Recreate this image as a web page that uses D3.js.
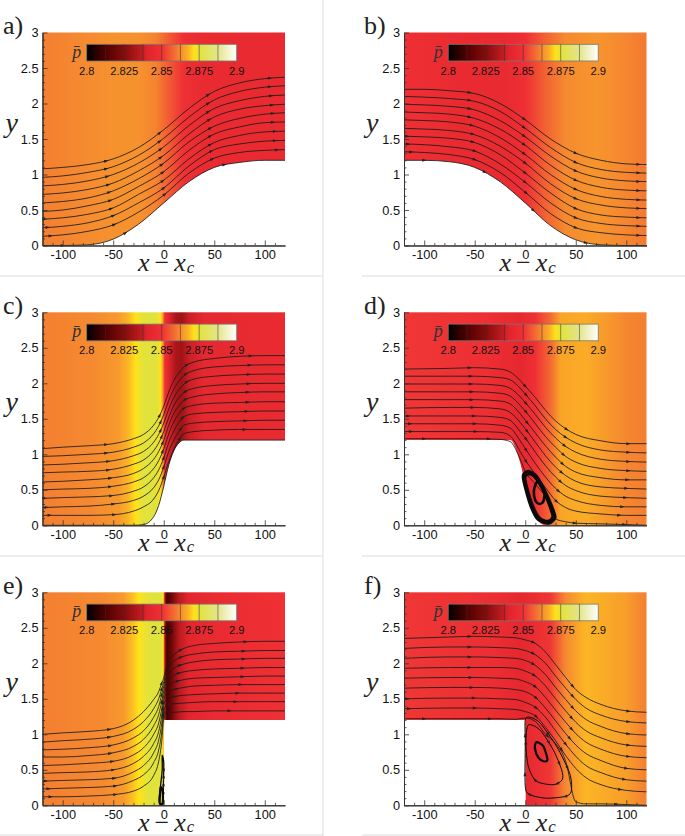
<!DOCTYPE html>
<html>
<head>
<meta charset="utf-8">
<script src="https://cdn.jsdelivr.net/npm/d3@7"></script>
<style>
html,body{margin:0;padding:0;background:#fff;}
svg{display:block;}
</style>
</head>
<body>
<div id="chart"></div>
<script>
// axis ticks
var xTicks=[-100,-50,0,50,100];
var yTicks=[0,0.5,1,1.5,2,2.5,3];
var xMinor=[-110,-90,-80,-70,-60,-40,-30,-20,-10,10,20,30,40,60,70,80,90,110];
var yMinor=[0.1,0.2,0.3,0.4,0.6,0.7,0.8,0.9,1.1,1.2,1.3,1.4,1.6,1.7,1.8,1.9,2.1,2.2,2.3,2.4,2.6,2.7,2.8,2.9];

// colour bar
var barTicks=[2.8,2.825,2.85,2.875,2.9];
var barCuts=[2.8125,2.825,2.8375,2.85,2.8625,2.875,2.8875];
var mapP=[2.8,2.8125,2.825,2.8375,2.84,2.85,2.8625,2.8675,2.8715,2.875,2.8875,2.9];
var mapC=["#000000","#520000","#850c0c","#c41e24","#e0242c","#ef3035","#f58a30","#fbb025","#ffe11a","#e2e23c","#e3e58c","#ffffff"];

// a) smooth step up
var xs_a=[-120,-100,-75,-50,-25,0,25,50,75,100,120];
var wall_a=[0,0,0.01,0.09,0.3,0.6,0.9,1.1,1.17,1.2,1.2];
var lines_a=[
 [1.08,1.1,1.14,1.22,1.38,1.63,1.93,2.17,2.29,2.35,2.37],
 [0.96,0.98,1.03,1.11,1.27,1.51,1.81,2.05,2.17,2.23,2.25],
 [0.84,0.86,0.91,1,1.16,1.39,1.69,1.93,2.04,2.1,2.12],
 [0.72,0.74,0.79,0.88,1.05,1.27,1.57,1.81,1.92,1.97,1.99],
 [0.6,0.62,0.67,0.77,0.94,1.16,1.46,1.68,1.79,1.85,1.87],
 [0.48,0.5,0.56,0.65,0.83,1.04,1.34,1.57,1.67,1.73,1.74],
 [0.37,0.39,0.44,0.53,0.72,0.92,1.22,1.45,1.55,1.6,1.61],
 [0.25,0.27,0.32,0.42,0.6,0.81,1.12,1.35,1.43,1.47,1.48],
 [0.13,0.15,0.2,0.29,0.47,0.71,1.02,1.23,1.31,1.34,1.35]
];
var arrows_a=[[-57,-4,44,105],[-57,-4,44,105],[-56,-3,44,106],[-55,-3,45,107],[-54,-2,46,108],[-53,-1,46,108],[-118,-52,-1,46,110],[-115,-50,0,47,110],[-112,-49,1,48,112]];
var wallArrows_a=[-100,-38,60];
var pX_a=[-120,-80,-50,-25,-8,5,20,40,120];
var pV_a=[2.861,2.8625,2.8635,2.8635,2.8615,2.856,2.849,2.846,2.846];

// b) smooth step down
var xs_b=[-120,-100,-75,-50,-25,0,25,50,75,100,120];
var wall_b=[1.2,1.2,1.18,1.1,0.9,0.6,0.28,0.08,0.01,0,0];
var lines_b=[
 [2.2,2.2,2.18,2.14,2,1.77,1.5,1.3,1.2,1.15,1.14],
 [2.1,2.09,2.07,2.03,1.89,1.65,1.38,1.17,1.07,1.03,1.02],
 [1.99,1.98,1.96,1.91,1.76,1.53,1.26,1.05,0.95,0.91,0.9],
 [1.88,1.87,1.85,1.79,1.64,1.41,1.13,0.92,0.82,0.78,0.77],
 [1.77,1.76,1.74,1.68,1.52,1.28,1,0.79,0.69,0.65,0.64],
 [1.65,1.64,1.62,1.56,1.4,1.16,0.87,0.66,0.57,0.53,0.52],
 [1.54,1.53,1.51,1.45,1.28,1.02,0.74,0.52,0.43,0.4,0.39],
 [1.43,1.42,1.39,1.33,1.15,0.89,0.6,0.39,0.31,0.28,0.27],
 [1.32,1.31,1.28,1.21,1.03,0.75,0.45,0.25,0.18,0.15,0.14]
];
var arrows_b=[[-55,-1,50,112],[-55,-1,50,112],[-55,-1,50,112],[-55,-1,50,112],[-53,-1,50,112],[-52,0,50,112],[-117,-52,0,50,112],[-116,-50,0,50,112],[-113,-50,1,50,112]];
var wallArrows_b=[-100,-40,8,60];
var pX_b=[-120,-60,-20,0,20,40,70,100,120];
var pV_b=[2.849,2.846,2.845,2.849,2.857,2.8625,2.864,2.862,2.86];

// c) steep step up
var xs_c=[-120,-100,-75,-50,-30,-20,-10,-5,0,5,10,15,20,30,50,75,100,120];
var wall_c=[0,0,0,0,0,0.01,0.12,0.28,0.55,0.85,1.05,1.16,1.2,1.2,1.2,1.2,1.2,1.2];
var lines_c=[
 [1.08,1.1,1.12,1.15,1.22,1.28,1.41,1.52,1.68,1.88,2.04,2.15,2.23,2.3,2.35,2.38,2.39,2.39],
 [0.97,0.98,1,1.03,1.1,1.16,1.29,1.4,1.56,1.76,1.92,2.03,2.11,2.18,2.23,2.25,2.26,2.26],
 [0.85,0.86,0.88,0.91,0.98,1.04,1.17,1.28,1.44,1.64,1.8,1.91,1.99,2.06,2.1,2.12,2.13,2.13],
 [0.74,0.75,0.76,0.79,0.86,0.92,1.05,1.16,1.32,1.52,1.69,1.8,1.87,1.93,1.97,1.99,2,2],
 [0.61,0.62,0.64,0.67,0.73,0.8,0.93,1.04,1.2,1.41,1.58,1.68,1.76,1.81,1.85,1.87,1.88,1.88],
 [0.5,0.51,0.52,0.55,0.61,0.67,0.8,0.91,1.08,1.29,1.46,1.57,1.65,1.69,1.72,1.73,1.74,1.74],
 [0.38,0.39,0.4,0.42,0.48,0.54,0.67,0.78,0.95,1.17,1.33,1.45,1.53,1.57,1.59,1.6,1.61,1.61],
 [0.25,0.26,0.27,0.3,0.35,0.41,0.53,0.64,0.82,1.04,1.2,1.32,1.41,1.44,1.46,1.47,1.48,1.48],
 [0.14,0.14,0.14,0.15,0.2,0.26,0.37,0.49,0.68,0.9,1.07,1.2,1.29,1.32,1.34,1.35,1.35,1.35]
];
var arrows_c=[[-57,-4,23,86],[-57,-3,22,85],[-55,-3,23,84],[-55,-2,22,84],[-53,-1,22,83],[-53,-1,20,83],[-118,-52,0,19,82],[-116,-50,0,17,81],[-113,-49,0,16,80]];
var wallArrows_c=[];
var pX_c=[-120,-70,-45,-35,-28,-20,-7,-3,-1,1,5,12,18,25,40,120];
var pV_c=[2.861,2.8625,2.8645,2.868,2.8715,2.875,2.875,2.8715,2.865,2.85,2.84,2.832,2.83,2.838,2.844,2.846];

// d) steep step down, separated bubble
var xs_d=[-120,-75,-50,-25,-15,-5,0,10,20,30,40,50,75,100,120];
var wall_d=[1.2,1.2,1.2,1.2,1.2,0.88,0.58,0.12,0,0,0,0,0,0,0];
var lines_d=[
 [2.2,2.21,2.22,2.2,2.16,2.04,1.96,1.8,1.62,1.47,1.36,1.28,1.19,1.15,1.15],
 [2.1,2.1,2.1,2.08,2.05,1.93,1.85,1.68,1.5,1.35,1.24,1.16,1.06,1.03,1.02],
 [1.99,1.99,1.99,1.97,1.93,1.81,1.73,1.56,1.38,1.23,1.11,1.03,0.93,0.9,0.89],
 [1.88,1.88,1.88,1.86,1.82,1.69,1.61,1.43,1.25,1.1,0.97,0.89,0.8,0.77,0.76],
 [1.77,1.77,1.77,1.75,1.71,1.57,1.48,1.3,1.12,0.96,0.83,0.75,0.67,0.64,0.64],
 [1.65,1.66,1.66,1.64,1.59,1.45,1.36,1.17,0.98,0.82,0.7,0.62,0.54,0.52,0.51],
 [1.54,1.54,1.54,1.52,1.48,1.32,1.23,1.03,0.84,0.68,0.56,0.49,0.41,0.39,0.38],
 [1.43,1.43,1.43,1.41,1.37,1.19,1.08,0.87,0.68,0.52,0.41,0.35,0.28,0.26,0.26],
 [1.32,1.32,1.32,1.31,1.26,1.04,0.92,0.72,0.53,0.35,0.25,0.2,0.16,0.14,0.14],
 [1.22,1.22,1.22,1.21,1.18,0.93,0.76,0.58,0.4,0.09,0.05,0.03,0.02,0.01,0]
];
var arrows_d=[[-55,0,41,102],[-54,1,40,102],[-54,1,39,102],[-53,1,38,102],[-53,2,37,101],[-52,2,36,100],[-116,-51,1,35,99],[-114,-50,1,33,96],[-113,-49,1,31,93],[-100,-36,49,98]];
var pX_d=[-120,-40,-5,10,25,35,60,100,120];
var pV_d=[2.851,2.849,2.843,2.85,2.858,2.866,2.867,2.862,2.861];
var loops_d=[
 [[-2,0.69],[3,0.76],[11,0.69],[19.5,0.48],[26,0.27],[29.4,0.11],[23,0.03],[13,0.08],[6.5,0.24],[1.5,0.46]],
 [[0,0.67],[4,0.72],[11,0.65],[19,0.45],[24,0.27],[27,0.12],[22,0.06],[14,0.11],[8,0.26],[3,0.47]],
 [[11,0.6],[15,0.6],[19,0.48],[18,0.34],[14,0.3],[10,0.35],[8.5,0.48]]
];

// e) forward facing step
var xs_e=[-120,-100,-75,-50,-30,-20,-10,-5,-2,0,1,2,5,10,20,30,50,75,100,120];
var wallX_e=[-120,0,0.5,120];
var wall_e=[0,0,1.2,1.2];
var lines_e=[
 [1,1.02,1.04,1.08,1.2,1.32,1.49,1.6,1.72,1.8,1.86,1.92,2.03,2.12,2.21,2.25,2.28,2.3,2.31,2.31],
 [0.89,0.91,0.93,0.97,1.07,1.18,1.36,1.5,1.64,1.74,1.8,1.86,1.95,2.03,2.1,2.13,2.16,2.17,2.18,2.18],
 [0.78,0.79,0.81,0.85,0.95,1.05,1.24,1.39,1.56,1.68,1.74,1.78,1.86,1.93,1.99,2.02,2.05,2.06,2.07,2.07],
 [0.68,0.68,0.7,0.74,0.83,0.93,1.12,1.28,1.46,1.61,1.67,1.71,1.77,1.83,1.88,1.9,1.92,1.93,1.94,1.94],
 [0.56,0.57,0.59,0.62,0.71,0.81,1,1.16,1.36,1.54,1.6,1.64,1.69,1.73,1.77,1.79,1.8,1.81,1.82,1.82],
 [0.45,0.46,0.47,0.5,0.59,0.69,0.87,1.04,1.26,1.47,1.53,1.56,1.6,1.63,1.66,1.68,1.69,1.7,1.7,1.7],
 [0.34,0.35,0.36,0.38,0.47,0.56,0.74,0.92,1.15,1.4,1.46,1.48,1.51,1.53,1.55,1.56,1.57,1.58,1.58,1.58],
 [0.23,0.24,0.25,0.27,0.35,0.43,0.6,0.78,1.03,1.32,1.38,1.4,1.42,1.43,1.44,1.45,1.46,1.46,1.46,1.46],
 [0.12,0.12,0.13,0.15,0.2,0.27,0.42,0.62,0.9,1.25,1.29,1.3,1.31,1.31,1.32,1.32,1.33,1.33,1.33,1.33]
];
var arrows_e=[[-54,-2,17,81],[-54,-2,17,79],[-53,-2,16,79],[-53,-2,15,78],[-51,-1,14,78],[-50,-1,13,76],[-117,-49,-1,11,73],[-114,-48,0,6,71],[-112,-48,0,65]];
var pX_e=[-120,-60,-40,-30,-25,-15,-2,-0.5,0,1,3,8,15,25,50,120];
var pV_e=[2.861,2.8625,2.8645,2.869,2.8715,2.875,2.875,2.8715,2.865,2.835,2.81,2.82,2.835,2.842,2.846,2.85];
var loops_e=[
 [[-1.5,0.7],[0,0.6],[-0.3,0.3],[-0.5,0.1],[-1,0.03],[-4,0.03],[-4.5,0.1],[-3,0.3],[-1.5,0.5]],
 [[-4,0.03],[-1,0.03],[-1,0.2],[-3,0.25]]
];

// f) backward facing step
var xs_f=[-120,-75,-50,-25,-10,0,10,20,30,40,50,60,75,100,120];
var wallX_f=[-120,0,0.5,120];
var wall_f=[1.2,1.2,0,0];
var lines_f=[
 [2.35,2.37,2.38,2.37,2.36,2.33,2.28,2.16,1.98,1.8,1.63,1.52,1.42,1.33,1.31],
 [2.21,2.23,2.23,2.22,2.21,2.18,2.12,2,1.82,1.65,1.49,1.37,1.27,1.18,1.16],
 [2.07,2.09,2.09,2.08,2.07,2.04,1.97,1.84,1.66,1.49,1.33,1.21,1.11,1.01,0.99],
 [1.93,1.94,1.94,1.94,1.93,1.89,1.82,1.68,1.5,1.33,1.17,1.05,0.95,0.85,0.83],
 [1.79,1.8,1.8,1.79,1.78,1.74,1.67,1.52,1.34,1.17,1.01,0.89,0.79,0.69,0.67],
 [1.65,1.66,1.66,1.65,1.63,1.6,1.52,1.37,1.19,1.01,0.85,0.73,0.63,0.52,0.5],
 [1.5,1.51,1.51,1.5,1.49,1.45,1.38,1.24,1.05,0.86,0.69,0.56,0.46,0.36,0.34],
 [1.36,1.37,1.37,1.36,1.35,1.32,1.26,1.1,0.91,0.7,0.52,0.39,0.29,0.21,0.19],
 [1.22,1.22,1.22,1.22,1.21,1.23,1.18,1,0.87,0.62,0.05,0.02,0.02,0.01,0]
];
var arrows_f=[[-55,8,47,102],[-55,8,47,102],[-55,8,47,102],[-55,9,46,102],[-54,10,46,102],[-53,11,44,100],[-117,-51,11,40,98],[-115,-50,11,36,94],[-100,-35,22,90]];
var pX_f=[-120,-30,-5,5,25,40,60,100,120];
var pV_f=[2.851,2.848,2.843,2.845,2.851,2.8625,2.868,2.865,2.861];
var loops_f=[
 [[0,1.2],[4.6,1.24],[14.6,1.16],[31,0.83],[44,0.45],[45.8,0.22],[41,0.13],[21,0.1],[4.6,0.15],[0,0.27],[0,0.88]],
 [[3,1.13],[14.6,1.06],[27.7,0.78],[36,0.5],[36.6,0.36],[27.7,0.29],[11,0.34],[3,0.55],[0.6,0.88]],
 [[11,0.89],[18,0.83],[22,0.64],[18,0.62],[13,0.67],[9.6,0.8]]
];

var panels=[
 {id:"a",label:"a)",col:0,row:0,xs:xs_a,wallX:xs_a,wall:wall_a,lines:lines_a,arrows:arrows_a,wallArrows:wallArrows_a,pX:pX_a,pV:pV_a,loops:[],loopW:[],loopArrows:[]},
 {id:"b",label:"b)",col:1,row:0,xs:xs_b,wallX:xs_b,wall:wall_b,lines:lines_b,arrows:arrows_b,wallArrows:wallArrows_b,pX:pX_b,pV:pV_b,loops:[],loopW:[],loopArrows:[]},
 {id:"c",label:"c)",col:0,row:1,xs:xs_c,wallX:xs_c,wall:wall_c,lines:lines_c,arrows:arrows_c,wallArrows:wallArrows_c,pX:pX_c,pV:pV_c,loops:[],loopW:[],loopArrows:[]},
 {id:"d",label:"d)",col:1,row:1,xs:xs_d,wallX:xs_d,wall:wall_d,lines:lines_d,arrows:arrows_d,wallArrows:[],pX:pX_d,pV:pV_d,loops:loops_d,loopW:[3.2,2.4,2.6],loopArrows:[[],[],[]]},
 {id:"e",label:"e)",col:0,row:2,xs:xs_e,wallX:wallX_e,wall:wall_e,lines:lines_e,arrows:arrows_e,wallArrows:[],pX:pX_e,pV:pV_e,loops:loops_e,loopW:[1.3,2.2],loopArrows:[[0.08,0.16,0.24,0.32,0.42],[]]},
 {id:"f",label:"f)",col:1,row:2,xs:xs_f,wallX:wallX_f,wall:wall_f,lines:lines_f,arrows:arrows_f,wallArrows:[],pX:pX_f,pV:pV_f,loops:loops_f,loopW:[1,1,2.2],loopArrows:[[0.12,0.3,0.45,0.62,0.72,0.9],[0.1,0.25,0.4,0.55,0.8],[]]}
];

var lefts=[42.5,404];
var tops=[32.5,312.3,592.3];
var pw=242.5, ph=213;
var mathFont="'Liberation Serif',serif";
var tickFont="'Liberation Sans',Arial,sans-serif";

var svg=d3.select("#chart").append("svg").attr("width",685).attr("height",836);
var defs=svg.append("defs");

// page rules between the panels
var rules=[[323,0,323,836],[0,276,323,276],[0,556,323,556],[0,835,323,835],[362,276,685,276],[362,556,685,556],[362,835,685,835]];
svg.selectAll("line.rule").data(rules).enter().append("line").attr("class","rule")
	.attr("x1",function(d){return d[0];}).attr("y1",function(d){return d[1];})
	.attr("x2",function(d){return d[2];}).attr("y2",function(d){return d[3];})
	.attr("stroke","#dcdcdc").attr("stroke-width",1);

var color=d3.scaleLinear().domain(mapP).range(mapC).interpolate(d3.interpolateRgb);

function drawPanel(p){
	var x=d3.scaleLinear().domain([-120,120]).range([0,pw]);
	var y=d3.scaleLinear().domain([0,3]).range([ph,0]);
	var g=svg.append("g").attr("transform","translate("+lefts[p.col]+","+tops[p.row]+")");

	// pressure field, bands in x
	var grad=defs.append("linearGradient").attr("id","field-"+p.id)
		.attr("gradientUnits","userSpaceOnUse")
		.attr("x1",x(-120)).attr("x2",x(120)).attr("y1",0).attr("y2",0);
	p.pX.forEach(function(v,i){
		grad.append("stop").attr("offset",(x(v)/pw)).attr("stop-color",color(p.pV[i]));
	});
	g.append("rect").attr("x",0).attr("y",0).attr("width",pw).attr("height",ph).attr("fill","url(#field-"+p.id+")");

	// wall, everything below it is white
	var wallPts=p.wallX.map(function(v,i){return [v,p.wall[i]];});
	var area=d3.area().x(function(d){return x(d[0]);}).y0(ph).y1(function(d){return y(d[1]);}).curve(d3.curveMonotoneX);
	var line=d3.line().x(function(d){return x(d[0]);}).y(function(d){return y(d[1]);}).curve(d3.curveMonotoneX);
	g.append("path").attr("d",area(wallPts)).attr("fill","#fff");

	function streamline(pts,arrowXs){
		var path=g.append("path").attr("d",line(pts)).attr("fill","none").attr("stroke","#1a1a1a").attr("stroke-width",0.85);
		var node=path.node(), total=node.getTotalLength();
		arrowXs.forEach(function(ax){
			var lo=0,hi=total,target=x(ax);
			for(var k=0;k<24;k++){
				var m=(lo+hi)/2;
				if(node.getPointAtLength(m).x<target) lo=m; else hi=m;
			}
			arrowAt(node,lo);
		});
	}

	function arrowAt(node,len){
		var a=node.getPointAtLength(Math.max(0,len-1)), b=node.getPointAtLength(len+1), c=node.getPointAtLength(len);
		var ang=Math.atan2(b.y-a.y,b.x-a.x)*180/Math.PI;
		g.append("path").attr("d","M2.4,0L-2,-1.5L-2,1.5Z").attr("fill","#222")
			.attr("transform","translate("+c.x+","+c.y+") rotate("+ang+")");
	}

	p.lines.forEach(function(ys,i){
		streamline(p.xs.map(function(v,j){return [v,ys[j]];}),p.arrows[i]);
	});
	// streamline hugging the smooth wall
	if(p.wallArrows.length||p.id=="c") streamline(wallPts,p.wallArrows);

	// recirculation loops
	var loop=d3.line().x(function(d){return x(d[0]);}).y(function(d){return y(d[1]);}).curve(d3.curveCardinalClosed.tension(0.2));
	p.loops.forEach(function(pts,i){
		var path=g.append("path").attr("d",loop(pts)).attr("fill","none").attr("stroke","#0a0a0a").attr("stroke-width",p.loopW[i]);
		var node=path.node(), total=node.getTotalLength();
		p.loopArrows[i].forEach(function(f){arrowAt(node,f*total);});
	});

	// axes, ticks point inwards
	var xg=g.append("g").attr("transform","translate(0,"+ph+")");
	xg.call(d3.axisBottom(x).tickValues(xMinor).tickFormat("").tickSizeInner(-2.5).tickSizeOuter(0));
	var xg2=g.append("g").attr("transform","translate(0,"+ph+")");
	xg2.call(d3.axisBottom(x).tickValues(xTicks).tickFormat(function(d){return d;}).tickSizeInner(-5).tickSizeOuter(0).tickPadding(3));
	var yg=g.append("g");
	yg.call(d3.axisLeft(y).tickValues(yMinor).tickFormat("").tickSizeInner(-2.5).tickSizeOuter(0));
	var yg2=g.append("g");
	yg2.call(d3.axisLeft(y).tickValues(yTicks).tickFormat(function(d){return d;}).tickSizeInner(-5).tickSizeOuter(0).tickPadding(4));
	g.selectAll(".domain").attr("stroke","#333").attr("stroke-width",1);
	g.selectAll(".tick line").attr("stroke","#333").attr("stroke-width",0.8);
	g.selectAll(".tick text").attr("font-family",tickFont).attr("font-size",12.8).attr("fill","#111");
	xg2.selectAll(".tick text").attr("dy","0.8em");

	// colour bar
	var bx=d3.scaleLinear().domain([2.8,2.9]).range([44.2,194.2]);
	var by=11.8, bh=16.7;
	var bgrad=defs.append("linearGradient").attr("id","bar-"+p.id)
		.attr("gradientUnits","userSpaceOnUse").attr("x1",bx(2.8)).attr("x2",bx(2.9)).attr("y1",0).attr("y2",0);
	mapP.forEach(function(v,i){
		bgrad.append("stop").attr("offset",(v-2.8)/0.1).attr("stop-color",mapC[i]);
	});
	g.append("rect").attr("x",bx(2.8)).attr("y",by).attr("width",150).attr("height",bh).attr("fill","url(#bar-"+p.id+")").attr("stroke","#777").attr("stroke-width",0.8);
	g.selectAll("line.cut").data(barCuts).enter().append("line").attr("class","cut")
		.attr("x1",bx).attr("x2",bx).attr("y1",by).attr("y2",by+bh)
		.attr("stroke","#333").attr("stroke-opacity",0.65).attr("stroke-width",0.8);
	g.selectAll("text.barlab").data(barTicks).enter().append("text").attr("class","barlab")
		.attr("x",bx).attr("y",by+bh+13.5).attr("text-anchor","middle")
		.attr("font-family",tickFont).attr("font-size",11.2).attr("fill","#111")
		.text(function(d){return d;});
	g.append("text").attr("x",bx(2.8)-10).attr("y",by+bh-3.5).attr("text-anchor","middle")
		.attr("font-family",mathFont).attr("font-style","italic").attr("font-size",18).attr("fill","#333").text("p\u0304");

	// labels
	var lx=p.col==0?-39.5:-40;
	g.append("text").attr("x",lx).attr("y",1.5).attr("font-family",mathFont).attr("font-size",26).attr("fill","#222").text(p.label);
	g.append("text").attr("x",lx+(p.col==0?2.5:2)).attr("y",99).attr("font-family",mathFont).attr("font-style","italic").attr("font-size",28).attr("fill","#222").text("y");
	var t=g.append("text").attr("x",95.5).attr("y",ph+25.5).attr("font-family",mathFont).attr("font-style","italic").attr("font-size",26).attr("fill","#222");
	t.append("tspan").text("x");
	t.append("tspan").attr("font-style","normal").attr("dx",5).text("\u2212");
	t.append("tspan").attr("dx",5).text("x");
	t.append("tspan").attr("dy",1.5).attr("dx",1).attr("font-size",17).text("c");
}

panels.forEach(drawPanel);
</script>
</body>
</html>
